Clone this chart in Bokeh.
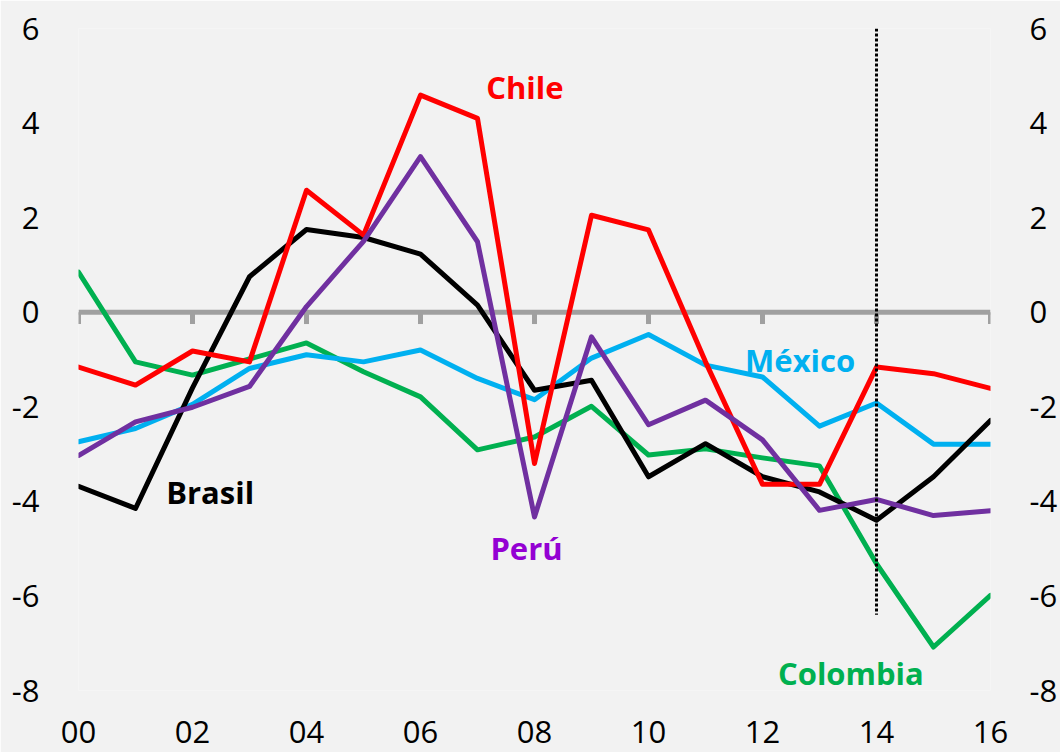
from bokeh.plotting import figure
from bokeh.models import FixedTicker, LinearAxis, Span, ColumnDataSource
from bokeh.core.properties import value
from bokeh.embed import file_html
from bokeh.resources import INLINE

years = list(range(2000, 2017))
chile = [-1.16, -1.54, -0.82, -1.05, 2.58, 1.63, 4.59, 4.10, -3.20, 2.05, 1.74, -1.05, -3.64, -3.64, -1.16, -1.30, -1.61]
brasil = [-3.68, -4.15, -1.60, 0.75, 1.75, 1.58, 1.23, 0.15, -1.65, -1.44, -3.48, -2.78, -3.48, -3.80, -4.40, -3.48, -2.29]
peru = [-3.03, -2.32, -2.01, -1.57, 0.12, 1.50, 3.29, 1.49, -4.33, -0.52, -2.38, -1.86, -2.70, -4.19, -3.96, -4.30, -4.20]
mexico = [-2.74, -2.46, -1.95, -1.19, -0.90, -1.05, -0.80, -1.40, -1.85, -0.97, -0.47, -1.12, -1.37, -2.41, -1.92, -2.79, -2.79]
colombia = [0.85, -1.05, -1.33, -0.99, -0.65, -1.26, -1.79, -2.91, -2.64, -1.99, -3.02, -2.89, -3.08, -3.25, -5.32, -7.08, -5.99]

x_ticks = [2000, 2002, 2004, 2006, 2008, 2010, 2012, 2014, 2016]
x_tick_labels = ["00", "02", "04", "06", "08", "10", "12", "14", "16"]
y_ticks = [-8, -6, -4, -2, 0, 2, 4, 6]
y_tick_labels = ["-8", "-6", "-4", "-2", "0", "2", "4", "6"]
forecast_start = 2014
forecast_line_bottom = -6.4

series_names = ["Colombia", "México", "Brasil", "Chile", "Perú"]
series_values = [colombia, mexico, brasil, chile, peru]
line_colors = ["#00B050", "#00B0F0", "#000000", "#FF0000", "#7030A0"]

label_names = ["Chile", "Brasil", "Perú", "México", "Colombia"]
label_x = [2007.83, 2002.31, 2007.86, 2012.66, 2013.55]
label_y = [4.76, -3.81, -4.99, -1.02, -7.64]
label_colors = ["#FF0000", "#000000", "#9400D3", "#00B0F0", "#00B050"]

BG = "#F2F2F2"
FONT = "Open Sans"

p = figure(width=1060, height=752, x_range=(2000, 2016), y_range=(-8, 6),
           output_backend="svg", toolbar_location=None,
           min_border_left=78, min_border_right=68, min_border_top=28, min_border_bottom=62,
           background_fill_color=BG, border_fill_color=BG, outline_line_color=None)
p.grid.visible = False

# bottom axis (labels only)
xa = p.xaxis[0]
xa.ticker = FixedTicker(ticks=x_ticks)
xa.major_label_overrides = {t: l for t, l in zip(x_ticks, x_tick_labels)}
xa.axis_line_color = None
xa.major_tick_line_color = None
xa.minor_tick_line_color = None
xa.major_label_standoff = 24
xa.major_label_text_line_height = 0.6
xa.major_label_text_font = FONT
xa.major_label_text_font_size = "31px"
xa.major_label_text_color = "#000000"

ya = p.yaxis[0]
yr = LinearAxis()
p.add_layout(yr, "right")
for ax in (ya, yr):
    ax.ticker = FixedTicker(ticks=y_ticks)
    ax.major_label_overrides = {t: l for t, l in zip(y_ticks, y_tick_labels)}
    ax.axis_line_color = None
    ax.major_tick_line_color = None
    ax.minor_tick_line_color = None
    ax.major_label_standoff = 33
    ax.major_label_text_font = FONT
    ax.major_label_text_font_size = "31px"
    ax.major_label_text_color = "#000000"

# zero line with downward ticks
p.add_layout(Span(location=0, dimension="width", line_color="#A0A0A0", line_width=5, level="underlay"))
p.segment(x0=x_ticks, y0=[0] * len(x_ticks), x1=x_ticks, y1=[-0.25] * len(x_ticks),
          line_color="#A0A0A0", line_width=5)

for name, vals, col in zip(series_names, series_values, line_colors):
    p.line(years, vals, line_color=col, line_width=5, line_join="round", line_cap="round")

# forecast marker
p.segment(x0=[forecast_start], y0=[6], x1=[forecast_start], y1=[forecast_line_bottom],
          line_color="#000000", line_width=3, line_dash="3 2")

src = ColumnDataSource(dict(x=label_x, y=label_y, text=label_names, color=label_colors))
p.text(x="x", y="y", text="text", text_color="color", source=src,
       text_font=value(FONT), text_font_style="bold", text_font_size="31px",
       text_align="center", text_baseline="middle")

open("out.html", "w").write(file_html(p, INLINE))
